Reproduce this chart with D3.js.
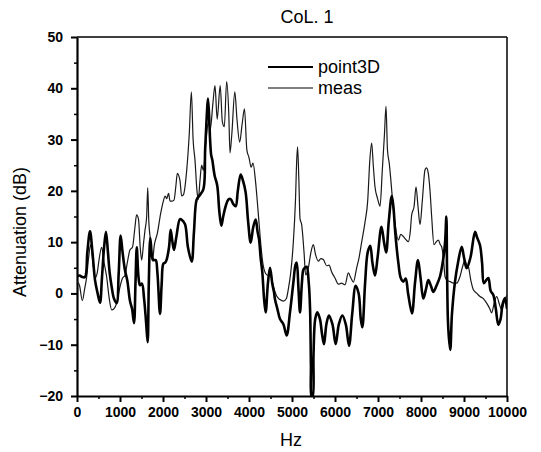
<!DOCTYPE html>
<html>
<head>
<meta charset="utf-8">
<script src="https://cdn.jsdelivr.net/npm/d3@7"></script>
<style>
  html, body { margin: 0; padding: 0; background: #fff; }
  svg { display: block; }
</style>
</head>
<body>
<div id="chart"></div>
<script>
// ---- data ----
const title = "CoL. 1";
const xLabel = "Hz";
const yLabel = "Attenuation (dB)";
const seriesNames = ["point3D", "meas"];
const xTicks = [0, 1000, 2000, 3000, 4000, 5000, 6000, 7000, 8000, 9000, 10000];
const yTicks = [-20, -10, 0, 10, 20, 30, 40, 50];

const point3DHz = [0,60,120,186,240,302,360,419,480,535,580,630,674,720,760,806,860,922,970,1015,1060,1116,1170,1233,1280,1326,1360,1390,1430,1465,1510,1560,1610,1643,1670,1705,1750,1783,1830,1870,1930,1970,2008,2050,2085,2140,2178,2220,2256,2310,2395,2440,2512,2580,2667,2720,2783,2840,2938,2980,3020,3045,3070,3095,3120,3147,3200,3262,3310,3356,3400,3457,3520,3574,3630,3690,3740,3806,3860,3922,3980,4039,4100,4155,4200,4233,4270,4310,4350,4388,4440,4489,4540,4582,4605,4660,4721,4800,4876,4953,5030,5080,5109,5150,5186,5230,5264,5300,5341,5390,5420,5440,5455,5480,5500,5540,5589,5650,5700,5744,5800,5860,5940,6016,6090,6171,6250,6326,6400,6481,6550,6600,6636,6700,6760,6820,6870,6930,6990,7080,7140,7190,7250,7320,7357,7400,7473,7530,7589,7644,7700,7790,7860,7930,7990,8054,8120,8170,8230,8287,8360,8442,8519,8560,8590,8605,8625,8645,8680,8720,8791,8860,8946,9000,9062,9150,9256,9300,9372,9420,9460,9510,9566,9620,9682,9740,9798,9850,9900,9953,10000];
const point3DdB = [3.3,3.5,3.2,3.2,8,12.1,8,2.6,0,-1.8,3,9,12,8,4,1.3,-1,-1.9,4,11.3,8,4.5,2.5,-1.5,-3,-5.8,2,9,3.2,1.6,1.9,-1,-6,-9.5,2,10.8,7,6.5,6.5,4,-4,2,5.8,6,6.6,9,12.4,10,8.5,11,14.5,14.3,13.5,9,6.2,12,18.3,19,20.3,28,35,38,35,30,27,26,23,21,16,13.2,15,17,18.3,18.4,17.5,17,20,23.2,22,19.7,14,9.9,13,14.4,12,10.6,7,4.1,-1,-3.7,2,5,2,0.2,-1.2,-3,-5,-6,-8.2,-3.7,2,5.5,6,1,-3.7,2,4.6,5,5.2,2,-3,-14,-20,-20,-12,-5,-3.7,-5,-8,-9.9,-6,-4.3,-6,-9.9,-6,-4.3,-6,-10.2,-4,1.5,0,-5,-6.6,2,8,9.3,6,3.5,7,13,10,8,14,19,17,12,6,3,2.3,2.9,0,-3.9,2,6.5,3,-1,1,2.6,1.5,0.3,1.5,3.3,6.8,10,15,5,-5,-8.2,-11,-4,2.3,6,9.1,7,4.9,7,12,11,9.4,6,2,2.5,3,0.5,-0.3,-3,-6.1,-5,-2,-0.9,-3];

const measHz = [0,60,124,180,225,270,320,370,420,470,520,574,630,690,750,806,860,922,1000,1060,1116,1170,1233,1290,1349,1385,1430,1470,1504,1550,1581,1620,1645,1670,1700,1751,1800,1868,1946,2008,2050,2085,2130,2163,2200,2256,2300,2333,2395,2434,2473,2550,2610,2660,2700,2744,2790,2821,2860,2899,2938,3000,3054,3100,3160,3209,3260,3330,3380,3426,3480,3530,3558,3600,3670,3720,3783,3840,3895,3950,4000,4049,4093,4150,4209,4260,4320,4380,4442,4488,4550,4643,4720,4800,4870,4914,4970,5031,5080,5110,5130,5160,5186,5225,5280,5318,5380,5440,5496,5550,5612,5670,5729,5806,5860,5922,6000,6078,6150,6233,6310,6370,6427,6504,6560,6620,6700,6760,6810,6853,6890,6930,6990,7047,7100,7150,7186,7220,7264,7300,7350,7395,7473,7530,7589,7650,7705,7750,7783,7840,7884,7930,7977,8030,8093,8130,8170,8210,8248,8302,8350,8403,8450,8481,8530,8558,8600,8680,8752,8830,8907,8960,9023,9060,9101,9160,9217,9300,9372,9450,9527,9600,9643,9700,9760,9820,9876,9940,10000];
const measdB = [2.4,1.5,-1.4,1,3.2,7,9.5,6,3,4,7,9,6,3.2,-1,-3.2,-3,-1.9,1.3,3,3.5,6,8.5,9,13,15.3,14.5,9,6.5,10,12.3,15,20.6,14,11,6.3,9.5,11.7,15.6,18,19,18.5,19.5,18,18,18.2,21,23.4,22,19,19.2,23.9,31,39.3,30,26,20,18.3,22,25,24,30,33.3,32,37,40.5,34,40.5,33.5,32.5,41.3,35,27.4,31,39.3,34,29.5,33,36,28,26.5,24.6,25.4,22,16.3,11,6,4,3.5,4.6,2,-0.5,-1.2,-1.5,-1,0.8,4,10,18,26,28.6,22,14.6,13.4,8,3.6,5,8,9.5,7.5,6.3,6.8,6.6,5.4,5.5,4.2,3,1.8,2,1.7,4,3,2.2,5,7,10,14,18,26,29.3,25,20.8,18.5,17,24,31,36.5,28,25.2,22,17,13.7,10.4,11.5,11.1,10.5,10.1,12,15.3,17,20.8,17,13.4,18,24.1,24.5,23.4,20,15,9.5,10,10.4,9.5,9.1,6,3.3,2.6,2.3,2,2,3.3,5,6.5,5.5,5.2,2.5,0.7,0,-0.6,-1,-1.9,-3,-3.8,-2,-0.6,-2,-3.2,-1.5,-0.3];

// ---- layout ----
const W = 541, H = 452;
const plot = { left: 77, top: 37, right: 507, bottom: 396 };

const svg = d3.select("#chart").append("svg")
  .attr("width", W).attr("height", H)
  .attr("font-family", "Liberation Sans, Arial, sans-serif");

const x = d3.scaleLinear().domain([0, 10000]).range([plot.left, plot.right]);
const y = d3.scaleLinear().domain([-20, 50]).range([plot.bottom, plot.top]);

svg.append("defs").append("clipPath").attr("id", "clip")
  .append("rect").attr("x", plot.left).attr("y", plot.top)
  .attr("width", plot.right - plot.left).attr("height", plot.bottom - plot.top);

// frame (top, right)
svg.append("line").attr("x1", plot.left).attr("x2", plot.right)
  .attr("y1", plot.top).attr("y2", plot.top).attr("stroke", "#000").attr("stroke-width", 1.5);
svg.append("line").attr("x1", plot.right).attr("x2", plot.right)
  .attr("y1", plot.top).attr("y2", plot.bottom).attr("stroke", "#000").attr("stroke-width", 1.5);

// minor ticks
const xMinor = d3.range(500, 10000, 1000);
const yMinor = d3.range(-15, 50, 10);
svg.append("g").attr("transform", `translate(0,${plot.bottom})`)
  .call(d3.axisBottom(x).tickValues(xMinor).tickSize(3).tickFormat(""))
  .call(g => g.select(".domain").remove())
  .call(g => g.selectAll("line").attr("stroke-width", 1.5));
svg.append("g").attr("transform", `translate(${plot.left},0)`)
  .call(d3.axisLeft(y).tickValues(yMinor).tickSize(3).tickFormat(""))
  .call(g => g.select(".domain").remove())
  .call(g => g.selectAll("line").attr("stroke-width", 1.5));

// axes
const xAxis = svg.append("g").attr("transform", `translate(0,${plot.bottom})`)
  .call(d3.axisBottom(x).tickValues(xTicks).tickSize(6).tickSizeOuter(0).tickPadding(5).tickFormat(d3.format("d")));
xAxis.select(".domain").attr("stroke-width", 2.2);
xAxis.selectAll(".tick line").attr("stroke-width", 2);
xAxis.selectAll("text").attr("font-size", 14).attr("font-weight", "bold")
  .attr("font-family", "Liberation Sans, Arial, sans-serif").attr("fill", "#000");

const yAxis = svg.append("g").attr("transform", `translate(${plot.left},0)`)
  .call(d3.axisLeft(y).tickValues(yTicks).tickSize(6).tickSizeOuter(0).tickPadding(8).tickFormat(d3.format("d")));
yAxis.select(".domain").attr("stroke-width", 2.2);
yAxis.selectAll(".tick line").attr("stroke-width", 2);
yAxis.selectAll("text").attr("font-size", 14).attr("font-weight", "bold")
  .attr("font-family", "Liberation Sans, Arial, sans-serif").attr("fill", "#000");

// lines
const thinLine = d3.line().x(d => x(d[0])).y(d => y(d[1])).curve(d3.curveMonotoneX);
const thickLine = d3.line().x(d => x(d[0])).y(d => y(d[1])).curve(d3.curveCatmullRom.alpha(0.5));
const measData = measHz.map((h, i) => [h, measdB[i]]);
const p3dData = point3DHz.map((h, i) => [h, point3DdB[i]]);

const lines = svg.append("g").attr("clip-path", "url(#clip)");
lines.append("path").datum(measData).attr("d", thinLine)
  .attr("fill", "none").attr("stroke", "#1a1a1a").attr("stroke-width", 1.2);
lines.append("path").datum(p3dData).attr("d", thickLine)
  .attr("fill", "none").attr("stroke", "#000").attr("stroke-width", 2.6)
  .attr("stroke-linejoin", "round");

// legend
const legend = svg.append("g");
const legendY = [67, 88];
const legendW = [2, 1.2];
seriesNames.forEach((name, i) => {
  legend.append("line").attr("x1", 268).attr("x2", 313)
    .attr("y1", legendY[i]).attr("y2", legendY[i])
    .attr("stroke", "#000").attr("stroke-width", legendW[i]);
  legend.append("text").attr("x", 318).attr("y", legendY[i])
    .attr("dy", "0.35em").attr("font-size", 18).text(name);
});

// title & labels
svg.append("text").attr("x", 307).attr("y", 17).attr("dy", "0.35em")
  .attr("text-anchor", "middle").attr("font-size", 18).text(title);
svg.append("text").attr("x", 291).attr("y", 440).attr("dy", "0.35em")
  .attr("text-anchor", "middle").attr("font-size", 18).text(xLabel);
svg.append("text").attr("transform", "translate(20,232) rotate(-90)")
  .attr("dy", "0.35em").attr("text-anchor", "middle").attr("font-size", 18).text(yLabel);
</script>
</body>
</html>
